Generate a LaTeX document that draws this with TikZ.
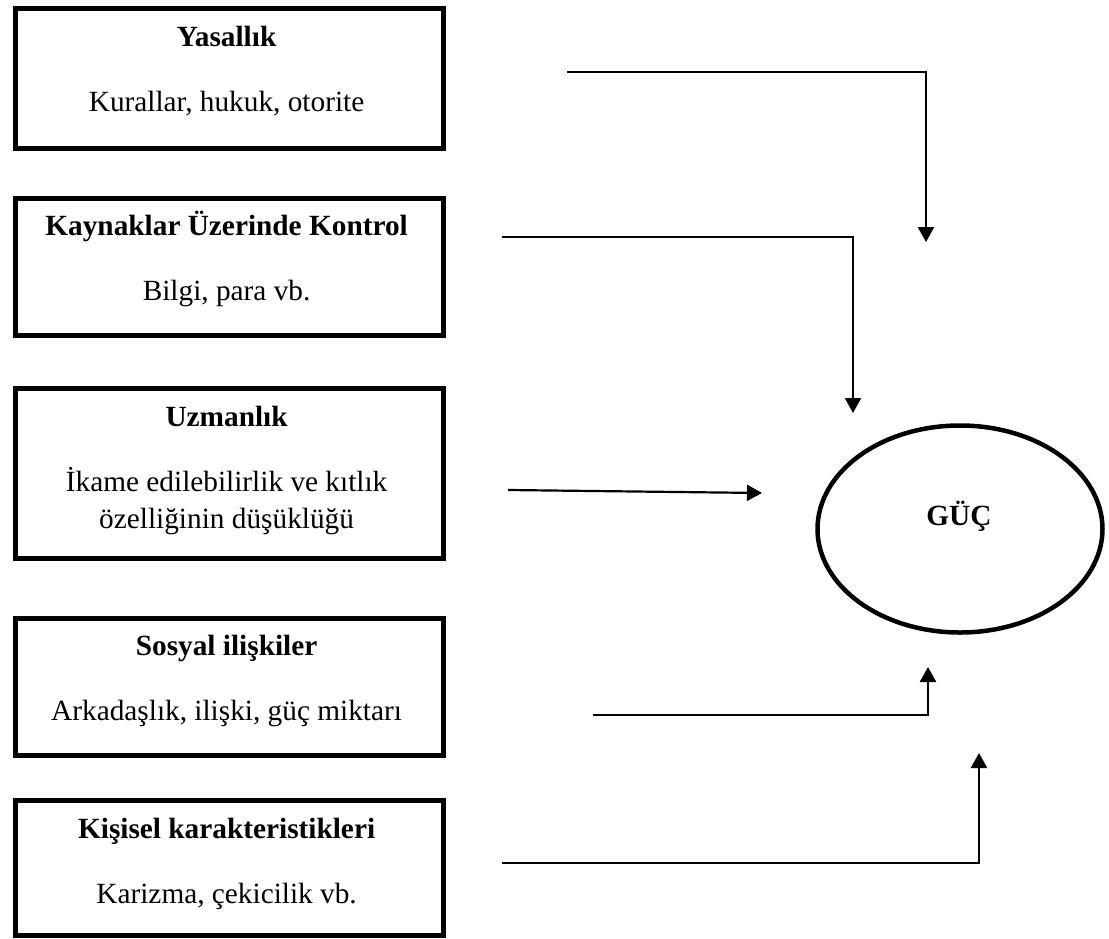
\documentclass[tikz,border=0pt]{standalone}
\usepackage{fontspec}
\setmainfont{Liberation Serif}
\usetikzlibrary{arrows.meta,shapes.geometric}

\tikzset{
  factorbox/.style={draw, line width=5pt, rectangle, anchor=north west,
    minimum width=428.3pt, inner sep=0pt},
  boxtitle/.style={anchor=base, font=\fontsize{29.3}{36.7}\selectfont\bfseries, inner sep=0pt},
  boxtext/.style={anchor=base, font=\fontsize{29.3}{36.7}\selectfont, inner sep=0pt, align=center},
  powernode/.style={draw, ellipse, line width=4.5pt, minimum width=285pt,
    minimum height=207pt, inner sep=0pt},
  flow/.style={line width=2.2pt, -{Triangle[length=15pt,width=16pt]}},
}

\begin{document}
\begin{tikzpicture}[x=1pt, y=-1pt]
  \useasboundingbox (0,0) rectangle (1109,938);

  % factor boxes
  \node[factorbox, minimum height=139.5pt] (b1) at (12.5,6) {};
  \node[factorbox, minimum height=137.5pt] (b2) at (12.5,195.5) {};
  \node[factorbox, minimum height=170pt] (b3) at (12.5,385.5) {};
  \node[factorbox, minimum height=137pt] (b4) at (12.5,615.5) {};
  \node[factorbox, minimum height=135pt] (b5) at (12.5,797.5) {};

  % box texts
  \node[boxtitle] (t1) at (226.6,46.7) {Yasallık};
  \node[boxtext]  (s1) at (226.6,111.7) {Kurallar, hukuk, otorite};
  \node[boxtitle] (t2) at (226.6,235) {Kaynaklar Üzerinde Kontrol};
  \node[boxtext]  (s2) at (226.6,300) {Bilgi, para vb.};
  \node[boxtitle] (t3) at (226.6,426.7) {Uzmanlık};
  \node[boxtext]  (s3a) at (226.6,491.7) {İkame edilebilirlik ve kıtlık};
  \node[boxtext]  (s3b) at (226.6,528.4) {özelliğinin düşüklüğü};
  \node[boxtitle] (t4) at (226.6,655) {Sosyal ilişkiler};
  \node[boxtext]  (s4) at (226.6,720) {Arkadaşlık, ilişki, güç miktarı};
  \node[boxtitle] (t5) at (226.6,838.3) {Kişisel karakteristikleri};
  \node[boxtext]  (s5) at (226.6,903.3) {Karizma, çekicilik vb.};

  % power ellipse
  \node[powernode] (guc) at (960,529) {};
  \node[boxtitle] (gt) at (959,525) {GÜÇ};

  % connector end points
  \coordinate (a1s) at (567,72);   \coordinate (a1k) at (926,72);   \coordinate (a1e) at (926,242);
  \coordinate (a2s) at (502,237);  \coordinate (a2k) at (853,237);  \coordinate (a2e) at (853,413);
  \coordinate (a3s) at (508,490);  \coordinate (a3e) at (762,493);
  \coordinate (a4s) at (593,715);  \coordinate (a4k) at (928,715);  \coordinate (a4e) at (928,667);
  \coordinate (a5s) at (502,863);  \coordinate (a5k) at (979,863);  \coordinate (a5e) at (979,753);

  % connectors
  \draw[flow] (a1s) -- (a1k) -- (a1e);
  \draw[flow] (a2s) -- (a2k) -- (a2e);
  \draw[flow] (a3s) -- (a3e);
  \draw[flow, line width=2.6pt] (a4s) -- (a4k) -- (a4e);
  \draw[flow, line width=2.6pt] (a5s) -- (a5k) -- (a5e);
\end{tikzpicture}
\end{document}
